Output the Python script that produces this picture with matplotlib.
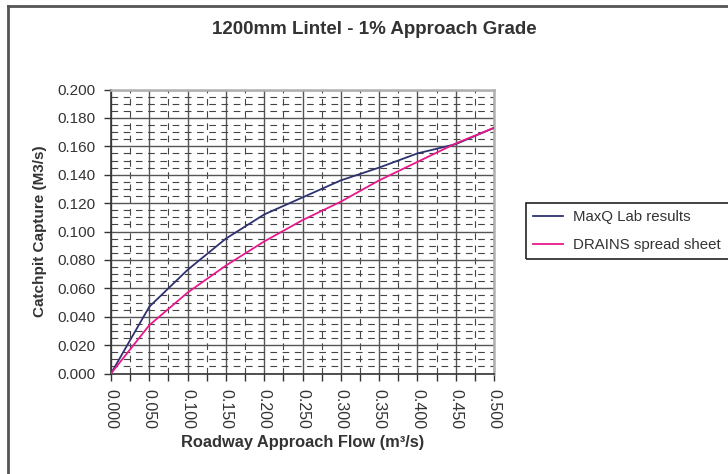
import matplotlib
matplotlib.use("Agg")
from matplotlib import pyplot as plt
from matplotlib.ticker import MultipleLocator, FormatStrFormatter
from matplotlib.lines import Line2D
from matplotlib.patches import Rectangle

plt.rcParams['font.family'] = ['Liberation Sans', 'DejaVu Sans']

# approach flow (m3/s) and captured flow for each method
flow = [0.000, 0.050, 0.100, 0.150, 0.200, 0.250, 0.300, 0.350, 0.400, 0.450, 0.500]
maxq = [0.000, 0.047, 0.073, 0.095, 0.112, 0.124, 0.136, 0.145, 0.155, 0.1615, 0.173]
drains = [0.000, 0.034, 0.057, 0.076, 0.093, 0.108, 0.121, 0.136, 0.149, 0.162, 0.173]
names = ['MaxQ Lab results', 'DRAINS spread sheet']

W, H = 728, 474
fig = plt.figure(figsize=(W / 100, H / 100), dpi=100)
ax = fig.add_axes([111 / W, 1 - 373.5 / H, (494 - 111) / W, (373.5 - 89.5) / H])

# outer chart border: only the top and left edges are on the page
fig.add_artist(Line2D([8 / W, 1.0], [1 - 5.5 / H, 1 - 5.5 / H],
                      transform=fig.transFigure, color='#555555', linewidth=2))
fig.add_artist(Line2D([8 / W, 8 / W], [0.0, 1 - 5.5 / H],
                      transform=fig.transFigure, color='#555555', linewidth=2))

ax.plot(flow, maxq, color='#2E3170', linewidth=1.3, zorder=3)
ax.plot(flow, drains, color='#E8188C', linewidth=1.3, zorder=3)

ax.set_xlim(0, 0.5)
ax.set_ylim(0, 0.2)
ax.xaxis.set_major_locator(MultipleLocator(0.05))
ax.xaxis.set_minor_locator(MultipleLocator(0.025))
ax.yaxis.set_major_locator(MultipleLocator(0.02))
ax.yaxis.set_minor_locator(MultipleLocator(0.005))
ax.xaxis.set_major_formatter(FormatStrFormatter('%.3f'))
ax.yaxis.set_major_formatter(FormatStrFormatter('%.3f'))

ax.grid(which='major', color='#555555', linewidth=1.0, linestyle='-', zorder=1)
ax.grid(which='minor', color='#444444', linewidth=0.8, linestyle=(0, (6, 5)), zorder=1)
ax.set_axisbelow(True)

ax.tick_params(axis='x', which='both', direction='out', length=5, width=1,
               color='#333333', labelsize=11.5, labelcolor='#333333',
               labelrotation=270, pad=6)
ax.tick_params(axis='y', which='major', direction='out', length=5, width=1,
               color='#333333', labelsize=11, labelcolor='#333333', pad=6)
ax.tick_params(axis='y', which='minor', length=0)
for lab in ax.get_xticklabels():
    lab.set_verticalalignment('top')

for s in ['left', 'bottom']:
    ax.spines[s].set_color('#333333')
    ax.spines[s].set_linewidth(1.2)
for s in ['top', 'right']:
    ax.spines[s].set_color('#b0b0b0')
    ax.spines[s].set_linewidth(1.8)

fig.text(374 / W, 1 - 30 / H, '1200mm Lintel - 1% Approach Grade',
         ha='center', va='center', fontsize=13.5, fontweight='bold', color='#333333')
fig.text(302.5 / W, 1 - 443 / H, 'Roadway Approach Flow (m³/s)',
         ha='center', va='center', fontsize=11.8, fontweight='bold', color='#333333')
fig.text(40 / W, 1 - 231.5 / H, 'Catchpit Capture (M3/s)', rotation=90,
         ha='center', va='center', fontsize=11, fontweight='bold', color='#333333')

# legend box runs past the right edge of the page
fig.add_artist(Rectangle((526 / W, 1 - 259 / H), 0.5, (259 - 203) / H,
                         transform=fig.transFigure, fill=False,
                         edgecolor='#222222', linewidth=1.2))
leg = ax.legend(names, loc='upper left', bbox_to_anchor=(526 / W, 1 - 203 / H),
                bbox_transform=fig.transFigure, fontsize=10.8, frameon=False,
                handlelength=2.0, handletextpad=0.7, labelspacing=0.95,
                borderpad=0.45, borderaxespad=0)
for t in leg.get_texts():
    t.set_color('#333333')

fig.savefig('out.png', dpi=100)
